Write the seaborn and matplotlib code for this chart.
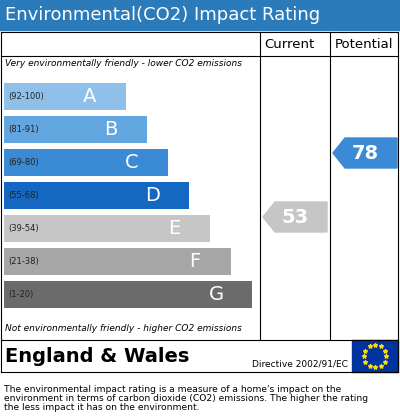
import matplotlib
matplotlib.use("Agg")
import matplotlib.pyplot as plt
import seaborn as sns
import pandas as pd
from matplotlib.patches import Rectangle, Polygon
import numpy as np

letters = ["A", "B", "C", "D", "E", "F", "G"]
ranges = ["(92-100)", "(81-91)", "(69-80)", "(55-68)", "(39-54)", "(21-38)", "(1-20)"]
bar_len = [122, 143, 164, 185, 206, 227, 248]
colors = ["#8fc0e9", "#62a6e0", "#3a8ad6", "#1568c2", "#c6c6c6", "#a6a6a6", "#6b6b6b"]
current = 53
potential = 78

fig = plt.figure(figsize=(4, 4.19), dpi=100)
bg = fig.add_axes([0, 0, 1, 1])
bg.set_xlim(0, 400); bg.set_ylim(419, 0); bg.axis("off")

bg.add_patch(Rectangle((0, 0), 400, 30, color="#2b7bbb"))
bg.text(5, 15, "Environmental(CO2) Impact Rating", color="white", fontsize=13, va="center")
lw = 0.8
for y in [32, 56, 340, 372]:
    bg.plot([1, 398], [y, y], color="black", lw=lw)
for x in [1, 398]:
    bg.plot([x, x], [32, 372], color="black", lw=lw)
for x in [260, 330]:
    bg.plot([x, x], [32, 340], color="black", lw=lw)
bg.text(289, 44, "Current", fontsize=9.5, ha="center", va="center")
bg.text(364, 44, "Potential", fontsize=9.5, ha="center", va="center")
bg.text(5, 64, "Very environmentally friendly - lower CO2 emissions", fontsize=6.5, style="italic", va="center")
bg.text(5, 328, "Not environmentally friendly - higher CO2 emissions", fontsize=6.5, style="italic", va="center")

bg.add_patch(Polygon([(263, 217), (275, 202), (327, 202), (327, 232), (275, 232)], color="#c6c6c6"))
bg.text(295, 217, str(current), color="white", fontsize=14, fontweight="bold", ha="center", va="center")
bg.add_patch(Polygon([(333, 153), (345, 138), (397, 138), (397, 168), (345, 168)], color="#3a8ad6"))
bg.text(365, 153, str(potential), color="white", fontsize=14, fontweight="bold", ha="center", va="center")

bg.text(5, 356, "England & Wales", fontsize=14, fontweight="bold", va="center")
bg.text(252, 364, "Directive 2002/91/EC", fontsize=6.5, va="center")
bg.add_patch(Rectangle((352, 340), 46, 32, color="#0033a0"))
ang = np.linspace(0, 2 * np.pi, 13)[:-1]
bg.scatter(375 + 11 * np.cos(ang), 356 + 11 * np.sin(ang), marker="*", s=8, color="#ffdd00", zorder=5)

bg.text(4, 385, "The environmental impact rating is a measure of a home's impact on the\n"
        "environment in terms of carbon dioxide (CO2) emissions. The higher the rating\n"
        "the less impact it has on the environment.", fontsize=6.6, va="top", linespacing=1.0)

ax = fig.add_axes([4 / 400, (419 - 311) / 419, 256 / 400, 231 / 419])
df = pd.DataFrame({"letter": letters, "len": bar_len})
sns.barplot(data=df, x="len", y="letter", hue="letter", palette=colors, legend=False,
            width=0.82, saturation=1, ax=ax, orient="h")
ax.set_xlim(0, 256)
ax.axis("off")
ax.patch.set_alpha(0)
for i, (l, r, v) in enumerate(zip(letters, ranges, bar_len)):
    ax.text(4, i, r, color="#222222", fontsize=6, va="center")
    ax.text(v - 36, i, l, color="white", fontsize=14, ha="center", va="center")

fig.savefig("out.png", dpi=100)
